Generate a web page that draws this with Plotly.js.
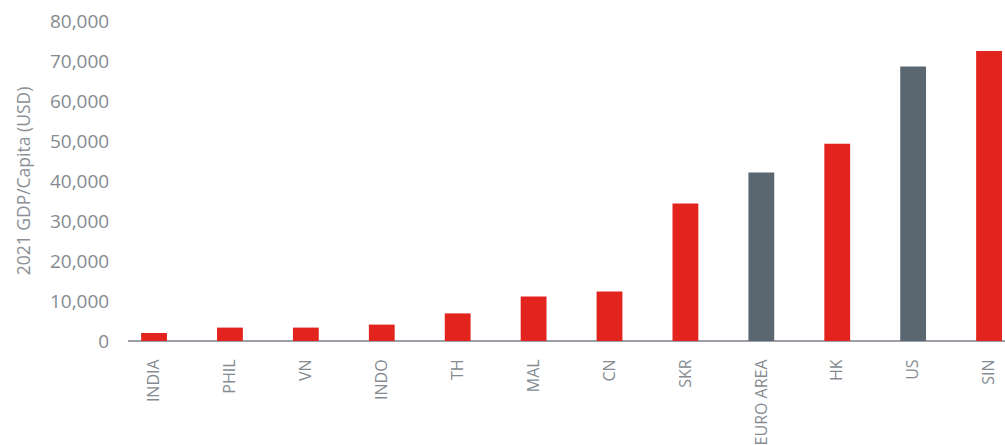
<!DOCTYPE html>
<html>
<head>
<meta charset="utf-8">
<script src="https://cdn.plot.ly/plotly-3.0.1.min.js"></script>
<style>html,body{margin:0;padding:0;background:#fff;}#chart{width:1005px;height:445px;}</style>
</head>
<body>
<div id="chart"></div>
<script>
const categories = ["INDIA","PHIL","VN","INDO","TH","MAL","CN","SKR","EURO AREA","HK","US","SIN"];
const gdpPerCapita = [2000, 3350, 3350, 4100, 6900, 11100, 12400, 34400, 42100, 49300, 68600, 72500];
const barColors = ["#e2231e","#e2231e","#e2231e","#e2231e","#e2231e","#e2231e","#e2231e","#e2231e","#5a6670","#e2231e","#5a6670","#e2231e"];
const yTickVals = [0,10000,20000,30000,40000,50000,60000,70000,80000];
const yTickText = ["0","10,000","20,000","30,000","40,000","50,000","60,000","70,000","80,000"];

const trace = {
  type: 'bar',
  x: categories,
  y: gdpPerCapita,
  marker: {color: barColors},
  hoverinfo: 'x+y'
};

const layout = {
  width: 1005, height: 445,
  margin: {l: 128, r: 0, t: 21, b: 104},
  paper_bgcolor: '#fff', plot_bgcolor: '#fff',
  bargap: 0.66,
  showlegend: false,
  font: {family: '"Open Sans", sans-serif', color: '#7d848b'},
  xaxis: {
    type: 'category',
    range: [-0.343, 11.21],
    tickangle: -90,
    tickfont: {size: 16, color: '#858b91'},
    showgrid: false,
    showline: false,
    zeroline: false,
    ticks: 'outside', ticklen: 11, tickcolor: 'rgba(0,0,0,0)',
    automargin: false,
    fixedrange: true
  },
  yaxis: {
    range: [0, 80000],
    tickvals: yTickVals,
    ticktext: yTickText,
    tickfont: {size: 19, color: '#858b91'},
    showgrid: false,
    zeroline: true,
    zerolinecolor: '#9aa0a6',
    zerolinewidth: 2,
    showline: false,
    ticks: 'outside', ticklen: 14, tickcolor: 'rgba(0,0,0,0)',
    title: {text: '2021 GDP/Capita (USD)', font: {size: 17.5, color: '#8a9096'}, standoff: 14},
    automargin: false,
    fixedrange: true
  }
};

Plotly.newPlot('chart', [trace], layout, {displayModeBar: false, staticPlot: true});
</script>
</body>
</html>
